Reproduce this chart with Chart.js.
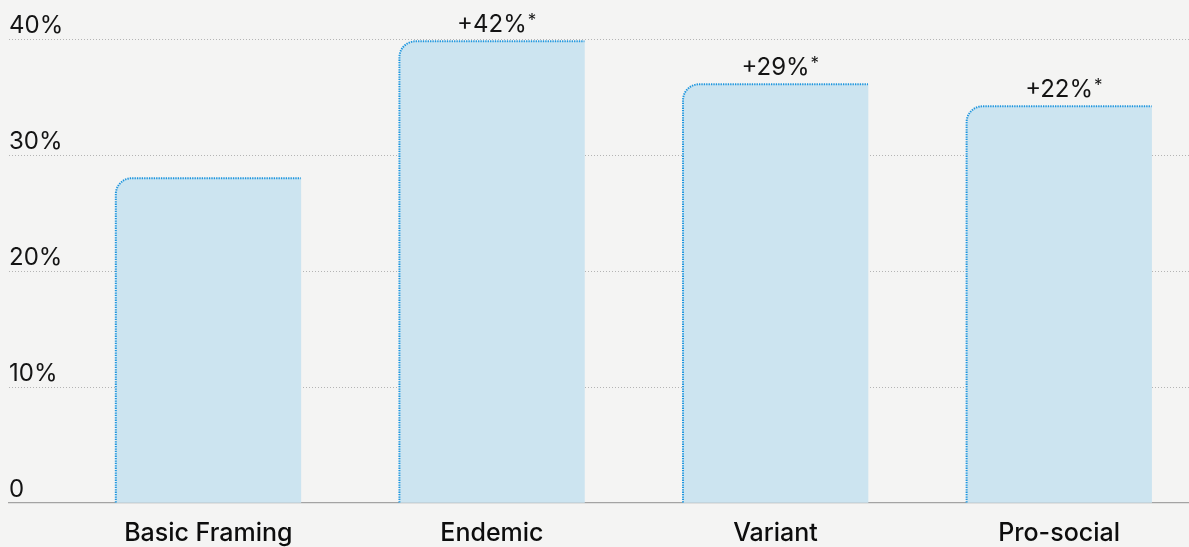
<!DOCTYPE html>
<html>
<head>
<meta charset="utf-8">
<title>Framing lift</title>
<script src="https://cdn.jsdelivr.net/npm/chart.js@4.4.1/dist/chart.umd.min.js"></script>
<style>
  html, body { margin: 0; padding: 0; background: #f4f4f3; overflow: hidden; }
  #wrap { width: 1189px; height: 547px; position: relative; }
</style>
</head>
<body>
<div id="wrap"><canvas id="framingChart"></canvas></div>
<script>
  // Share of respondents per message framing
  const categories = ['Basic Framing', 'Endemic', 'Variant', 'Pro-social'];
  const shares = [28.0, 39.8, 36.1, 34.2];
  const yTicks = [0, 10, 20, 30, 40];

  // lift over the basic framing, shown above every other bar
  const lifts = shares.map((v, i) => i === 0 ? null : '+' + Math.round((v / shares[0] - 1) * 100) + '%');

  const FONT = 'Inter, "Noto Sans", sans-serif';
  const cornerRadius = 16;

  // dotted outline along the left and top edge of each bar
  const barOutline = {
    id: 'barOutline',
    afterDatasetsDraw(chart) {
      const ctx = chart.ctx;
      const meta = chart.getDatasetMeta(0);
      ctx.save();
      ctx.strokeStyle = '#1f96de';
      ctx.lineWidth = 2;
      ctx.setLineDash([1.3, 1.1]);
      meta.data.forEach(bar => {
        const { x, y, base, width } = bar.getProps(['x', 'y', 'base', 'width'], true);
        const left = x - width / 2;
        const right = x + width / 2;
        ctx.beginPath();
        ctx.moveTo(left, base);
        ctx.lineTo(left, y + cornerRadius);
        ctx.arcTo(left, y, left + cornerRadius, y, cornerRadius);
        ctx.lineTo(right, y);
        ctx.stroke();
      });
      ctx.restore();
    }
  };

  // "+42%*" style labels above the bars
  const liftLabels = {
    id: 'liftLabels',
    afterDatasetsDraw(chart) {
      const ctx = chart.ctx;
      const meta = chart.getDatasetMeta(0);
      ctx.save();
      ctx.fillStyle = '#141414';
      ctx.textBaseline = 'alphabetic';
      meta.data.forEach((bar, i) => {
        if (!lifts[i]) return;
        const baseline = bar.y - 9.5;
        ctx.font = '400 24px ' + FONT;
        ctx.textAlign = 'center';
        ctx.fillText(lifts[i], bar.x, baseline);
        const w = ctx.measureText(lifts[i]).width;
        ctx.font = '400 17px ' + FONT;
        ctx.textAlign = 'left';
        ctx.fillText('*', bar.x + w / 2 + 1, baseline - 6);
      });
      ctx.restore();
    }
  };

  const ctx = document.getElementById('framingChart').getContext('2d');

  new Chart(ctx, {
    type: 'bar',
    data: {
      datasets: [
        {
          data: shares.map((v, i) => ({ x: i, y: v })),
          backgroundColor: '#cce4f0',
          borderWidth: 0,
          borderRadius: { topLeft: cornerRadius, topRight: 0, bottomLeft: 0, bottomRight: 0 },
          barThickness: 185
        }
      ]
    },
    options: {
      responsive: true,
      maintainAspectRatio: false,
      animation: false,
      events: [],
      layout: {
        padding: { left: 9, top: 39, right: 0, bottom: 0 }
      },
      plugins: {
        legend: { display: false },
        tooltip: { enabled: false }
      },
      scales: {
        x: {
          type: 'linear',
          offset: false,
          min: -0.7028,
          max: 3.458,
          grid: { display: false, drawTicks: false, offset: false },
          border: { display: true, color: '#a3a3a3', width: 1.2 },
          afterFit(scale) { scale.height = 44; },
          ticks: {
            stepSize: 1,
            includeBounds: false,
            autoSkip: false,
            maxRotation: 0,
            padding: 15,
            color: '#0d0d0d',
            font: { family: FONT, size: 25, weight: '500' },
            callback: v => categories[v] ?? ''
          }
        },
        y: {
          min: 0,
          max: 40,
          afterFit(scale) { scale.width = 0; },
          afterBuildTicks(scale) { scale.ticks = yTicks.map(v => ({ value: v })); },
          grid: {
            drawTicks: false,
            lineWidth: 1,
            color: c => c.tick && c.tick.value === 0 ? 'rgba(0,0,0,0)' : '#b4b4b4'
          },
          border: { display: false, dash: [1, 2] },
          ticks: {
            mirror: true,
            padding: 0,
            labelOffset: -13,
            color: '#141414',
            font: { family: FONT, size: 24, weight: '400' },
            callback: v => v === 0 ? '0' : v + '%'
          }
        }
      }
    },
    plugins: [barOutline, liftLabels]
  });
</script>
</body>
</html>
